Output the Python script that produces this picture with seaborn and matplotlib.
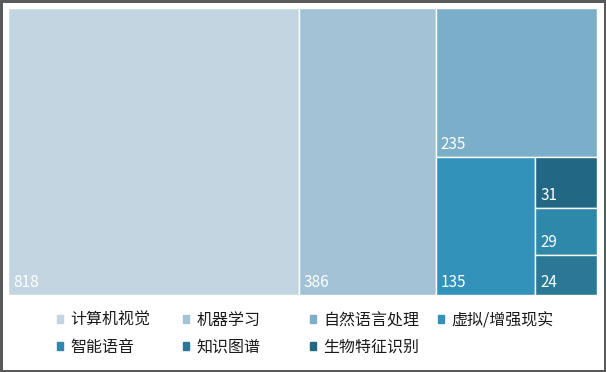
import matplotlib
matplotlib.use("Agg")
import matplotlib.pyplot as plt
import matplotlib.patches as mpatches
import seaborn as sns

# data
categories = ['计算机视觉', '机器学习', '自然语言处理', '虚拟/增强现实', '智能语音', '知识图谱', '生物特征识别']
counts = [818, 386, 235, 135, 29, 24, 31]
colors = ['#C3D5E1', '#A4C2D5', '#7AAEC9', '#3292BA', '#2E88AA', '#2A7896', '#226784']


def slice_layout(values, x, y, w, h):
    # put the biggest item as a strip along the longer side, recurse on the rest
    rects = []
    rest = list(values)
    while rest:
        v = rest.pop(0)
        if not rest:
            rects.append((x, y, w, h))
            break
        frac = v / (v + sum(rest))
        if w >= h:
            rects.append((x, y, w * frac, h))
            x, w = x + w * frac, w * (1 - frac)
        else:
            rects.append((x, y + h * (1 - frac), w, h * frac))
            h = h * (1 - frac)
    return rects


sns.set_theme(style="white")
plt.rcParams['font.family'] = ['Noto Sans CJK SC', 'DejaVu Sans']

fig = plt.figure(figsize=(6.06, 3.72), dpi=100)
fig.patch.set_edgecolor('#595959')
fig.patch.set_linewidth(2.5)
ax = fig.add_axes([8 / 606, 1 - 295 / 372, 589 / 606, 287 / 372])

order = sorted(range(len(counts)), key=lambda i: -counts[i])
W, H = 589.0, 287.0
rects = slice_layout([counts[i] for i in order], 0, 0, W, H)

for i, (rx, ry, rw, rh) in zip(order, rects):
    ax.bar(rx, rh, width=rw, bottom=ry, align='edge', color=colors[i],
           edgecolor='white', linewidth=1)
    ax.annotate(str(counts[i]), (rx, ry), xytext=(5, 8), textcoords='offset pixels',
                color='white', fontsize=11, ha='left', va='baseline')

ax.set_xlim(0, W)
ax.set_ylim(0, H)
ax.set_axis_off()

# legend: 4 columns, 2 rows
fs = 11.5
col_x = [57, 183, 310, 438]
for c in range(4):
    idx = [i for i in (c, c + 4) if i < len(categories)]
    handles = [mpatches.Patch(color=colors[i], label=categories[i]) for i in idx]
    fig.legend(handles=handles, loc='upper left',
               bbox_to_anchor=(col_x[c] / 606, 1 - 312 / 372),
               frameon=False, fontsize=fs, handlelength=0.38, handleheight=0.38,
               handletextpad=0.45, labelspacing=0.6, borderpad=0, borderaxespad=0,
               labelcolor='#1a1a1a')

fig.savefig('out.png', dpi=100)
